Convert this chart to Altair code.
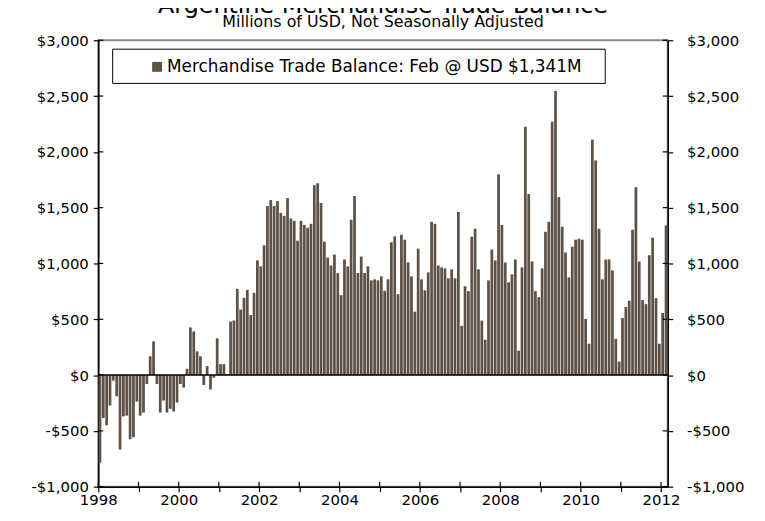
import altair as alt
import pandas as pd

# ---- data (millions of USD, monthly, Jan 1998 .. Feb 2012) ----
y1998 = [-785, -385, -450, -273, -50, -190, -667, -370, -363, -575, -557, -237]
y1999 = [-363, -336, -80, 168, 302, -80, -336, -228, -336, -302, -326, -246]
y2000 = [-80, -112, 56, 427, 391, 213, 169, -89, 80, -130, -24, 329]
y2001 = [98, 98, 10, 480, 489, 773, 587, 693, 764, 538, 737, 1027]
y2002 = [974, 1163, 1515, 1568, 1515, 1559, 1453, 1426, 1586, 1403, 1382, 1204]
y2003 = [1382, 1346, 1320, 1355, 1701, 1719, 1542, 1195, 1053, 982, 1080, 914]
y2004 = [716, 1036, 974, 1391, 1604, 914, 1062, 914, 974, 849, 858, 849]
y2005 = [885, 755, 858, 1190, 1243, 725, 1258, 1213, 1009, 885, 568, 1133]
y2006 = [858, 760, 920, 1373, 1355, 982, 965, 956, 867, 947, 867, 1462]
y2007 = [441, 796, 752, 1240, 1311, 947, 488, 317, 849, 1124, 1027, 1799]
y2008 = [1346, 1009, 831, 902, 1036, 219, 965, 2225, 1622, 1018, 752, 698]
y2009 = [956, 1284, 1373, 2270, 2545, 1595, 1329, 1098, 876, 1151, 1213, 1222]
y2010 = [1213, 503, 281, 2110, 1923, 1311, 858, 1036, 1036, 938, 325, 121]
y2011 = [512, 610, 666, 1302, 1684, 1018, 672, 636, 1074, 1231, 689, 281]
y2012 = [556, 1341]

start_year = 1998
year_ticks = list(range(1998, 2013))
y_ticks = [-1000, -500, 0, 500, 1000, 1500, 2000, 2500, 3000]

title_text = "Argentine Merchandise Trade Balance"
subtitle_text = "Millions of USD, Not Seasonally Adjusted"
legend_text = "Merchandise Trade Balance: Feb @ USD $1,341M"

values = (y1998 + y1999 + y2000 + y2001 + y2002 + y2003 + y2004 + y2005 +
          y2006 + y2007 + y2008 + y2009 + y2010 + y2011 + y2012)
df = pd.DataFrame({"value": values})
df["t"] = start_year + df.index / 12.0

BAR = "#5E5247"
FONT = "DejaVu Sans"
W, H = 574, 450

x_scale = alt.Scale(domain=[1998, 2012 + 2 / 12], nice=False, zero=False)
y_scale = alt.Scale(domain=[-1000, 3000], nice=False)

label_expr_y = "(datum.value < 0 ? '-$' : '$') + format(abs(datum.value), ',')"

common_axis = dict(domainColor="black", domainWidth=1.5, tickColor="black",
                   tickWidth=1.2, tickSize=5, labelFont=FONT, labelFontSize=15,
                   labelColor="black", grid=False, title=None, labelOverlap=False)

x_axis = alt.Axis(values=year_ticks,
                  labelExpr="datum.value % 2 == 0 ? format(datum.value, 'd') : ''",
                  labelPadding=1, labelFlush=False, orient="bottom", **common_axis)
left_axis = alt.Axis(values=y_ticks, labelExpr=label_expr_y, orient="left",
                     labelPadding=5, **common_axis)
right_axis = alt.Axis(values=y_ticks, labelExpr=label_expr_y, orient="right",
                      labelPadding=14, **common_axis)

bars = alt.Chart(df).transform_calculate(
    x0="datum.t + 0.09/12", x1="datum.t + 0.91/12"
).mark_bar(color=BAR).encode(
    x=alt.X("x0:Q", scale=x_scale, axis=x_axis),
    x2="x1:Q",
    y=alt.Y("value:Q", scale=y_scale, axis=left_axis),
    y2=alt.datum(0),
)

zero_rule = alt.Chart(pd.DataFrame({"v": [0]})).mark_rule(color="black", strokeWidth=1.5).encode(
    y=alt.Y("v:Q", scale=y_scale, axis=right_axis)
)

ytick_df = pd.DataFrame({"v": y_ticks})
left_inner = alt.Chart(ytick_df).mark_rule(color="black", strokeWidth=1.2).encode(
    y=alt.Y("v:Q", scale=y_scale, axis=None), x=alt.value(0), x2=alt.value(5))
right_inner = alt.Chart(ytick_df).mark_rule(color="black", strokeWidth=1.2).encode(
    y=alt.Y("v:Q", scale=y_scale, axis=None), x=alt.value(W - 5), x2=alt.value(W))
bottom_inner = alt.Chart(pd.DataFrame({"yr": year_ticks})).mark_rule(color="black", strokeWidth=1.2).encode(
    x=alt.X("yr:Q", scale=x_scale, axis=x_axis), y=alt.value(H - 5), y2=alt.value(H))

one = pd.DataFrame({"label": [legend_text], "title": [title_text], "sub": [subtitle_text]})
legend_box = alt.Chart(one).mark_rect(fill="white", stroke="black", strokeWidth=1).encode(
    x=alt.value(14.5), x2=alt.value(511), y=alt.value(9), y2=alt.value(43.5))
legend_sym = alt.Chart(one).mark_square(size=100, color=BAR, opacity=1, filled=True).encode(
    x=alt.value(59.3), y=alt.value(26.8))
legend_lbl = alt.Chart(one).mark_text(align="left", baseline="alphabetic", font=FONT,
                                      fontSize=17, color="black").encode(
    x=alt.value(69.3), y=alt.value(32), text="label:N")

title_mark = alt.Chart(one).mark_text(align="center", baseline="alphabetic", font=FONT,
                                      fontSize=24, color="black").encode(
    x=alt.value(W / 2), y=alt.value(-27.5), text="title:N")
sub_mark = alt.Chart(one).mark_text(align="center", baseline="alphabetic", font=FONT,
                                    fontSize=16, color="black").encode(
    x=alt.value(W / 2), y=alt.value(-13.5), text="sub:N")

chart = alt.layer(
    bars, zero_rule, left_inner, right_inner, bottom_inner,
    legend_box, legend_sym, legend_lbl, title_mark, sub_mark
).resolve_scale(y="independent").properties(
    width=W, height=H,
    autosize=alt.AutoSizeParams(type="none"),
    padding={"left": 91, "top": 30.5, "right": 90, "bottom": 24},
).configure_view(stroke="#888888", strokeWidth=2)

chart.save("out.html", embed_options={"renderer": "svg", "actions": False})
